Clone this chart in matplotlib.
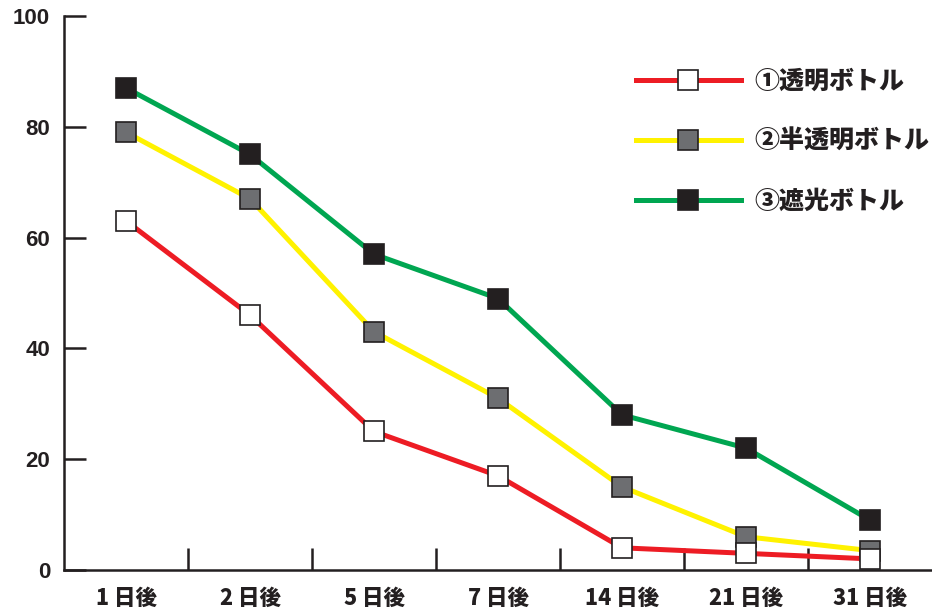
import matplotlib
matplotlib.use("Agg")
import matplotlib.pyplot as plt

plt.rcParams['font.family'] = ['Noto Sans CJK JP', 'DejaVu Sans']

days = ["1 日後", "2 日後", "5 日後", "7 日後", "14 日後", "21 日後", "31 日後"]
clear_bottle = [63, 46, 25, 17, 4, 3, 2]
semi_bottle = [79, 67, 43, 31, 15, 6, 3.5]
dark_bottle = [87, 75, 57, 49, 28, 22, 9]
labels = ["①透明ボトル", "②半透明ボトル", "③遮光ボトル"]
y_ticks = [0, 20, 40, 60, 80, 100]


def main():
    fig = plt.figure(figsize=(9.32, 6.14), dpi=100)
    ax = fig.add_axes([0.0687, 0.0717, 0.9313, 0.9023])
    x = list(range(len(days)))

    style = dict(lw=3.6, marker="s", ms=14.5, mew=1.2, mec="#231f20")
    h3, = ax.plot(x, dark_bottle, color="#00a651", mfc="#231f20", label=labels[2], **style)
    h2, = ax.plot(x, semi_bottle, color="#fff200", mfc="#6d6e71", label=labels[1], **style)
    h1, = ax.plot(x, clear_bottle, color="#ed1c24", mfc="white", label=labels[0], **style)

    ax.set_xlim(-0.5, 6.5)
    ax.set_ylim(0, 100)
    ax.spines["top"].set_visible(False)
    ax.spines["right"].set_visible(False)
    for s in ("left", "bottom"):
        ax.spines[s].set_linewidth(1.8)
        ax.spines[s].set_color("#231f20")

    ax.set_yticks(y_ticks)
    ax.set_yticklabels([str(v) for v in y_ticks], fontweight="bold", fontsize=16,
                       family=["Liberation Sans", "DejaVu Sans"])
    ax.tick_params(axis="y", direction="in", length=16, width=1.8, pad=10, colors="#231f20")

    ax.set_xticks(x)
    ax.set_xticklabels(days, fontweight="heavy", fontsize=15.5)
    ax.tick_params(axis="x", which="major", length=0, pad=12, colors="#231f20")
    ax.set_xticks([i + 0.5 for i in x[:-1]], minor=True)
    ax.tick_params(axis="x", which="minor", direction="in", length=16, width=1.8, color="#231f20")

    leg = ax.legend(handles=[h1, h2, h3], loc="upper left", bbox_to_anchor=(0.633, 0.947),
                    frameon=False, handlelength=4.2, labelspacing=1.35, handletextpad=0.55,
                    prop={"weight": "heavy", "size": 18})
    for t in leg.get_texts():
        t.set_color("#231f20")

    fig.savefig("out.png", dpi=100)


if __name__ == "__main__":
    main()
